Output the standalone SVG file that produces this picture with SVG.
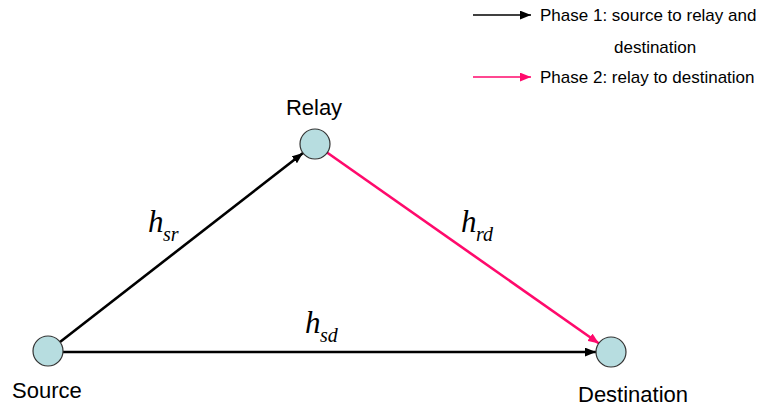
<svg xmlns="http://www.w3.org/2000/svg" width="766" height="407" viewBox="0 0 766 407">
<style>
  .lbl { font-family: "Liberation Sans", Arial, sans-serif; fill: #000; }
  .node { fill: #B7DDE0; stroke: #333; stroke-width: 1.2; }
  .blk { stroke: #000; stroke-width: 2.6; fill: none; }
  .pnk { stroke: #FF0A6C; stroke-width: 2.6; fill: none; }
  .h { font-family: "Liberation Serif", "Times New Roman", serif; font-style: italic; fill: #000; }
</style>
<defs>
  <marker id="ab" viewBox="0 0 10 8" refX="10" refY="4" markerWidth="11" markerHeight="9" markerUnits="userSpaceOnUse" orient="auto">
    <path d="M0,0 L10,4 L0,8 Z" fill="#000"/>
  </marker>
  <marker id="ap" viewBox="0 0 10 8" refX="10" refY="4" markerWidth="11" markerHeight="9" markerUnits="userSpaceOnUse" orient="auto">
    <path d="M0,0 L10,4 L0,8 Z" fill="#FF0A6C"/>
  </marker>
</defs>
<g id="legend">
  <line x1="473" y1="15" x2="531" y2="15" stroke="#000" stroke-width="1.5" marker-end="url(#ab)"/>
  <text class="lbl" x="540" y="21" font-size="17">Phase 1: source to relay and</text>
  <text class="lbl" x="614" y="53" font-size="17">destination</text>
  <line x1="473" y1="77" x2="531" y2="77" stroke="#FF0A6C" stroke-width="1.5" marker-end="url(#ap)"/>
  <text class="lbl" x="540" y="83" font-size="17">Phase 2: relay to destination</text>
</g>
<g id="connectors">
  <line class="blk" x1="60" y1="342" x2="303" y2="153" marker-end="url(#ab)"/>
  <line class="blk" x1="63" y1="352" x2="596" y2="352" marker-end="url(#ab)"/>
  <line class="pnk" x1="327" y1="152.5" x2="599" y2="343.5" marker-end="url(#ap)"/>
  <text class="h" x="148" y="232" font-size="31">h</text>
  <text class="h" x="163" y="241" font-size="20">sr</text>
  <text class="h" x="461" y="232" font-size="31">h</text>
  <text class="h" x="476" y="241" font-size="20">rd</text>
  <text class="h" x="305" y="333" font-size="31">h</text>
  <text class="h" x="320" y="342" font-size="20">sd</text>
</g>
<g id="relay">
  <circle class="node" cx="315" cy="144" r="15"/>
  <text class="lbl" x="314" y="115" font-size="22" text-anchor="middle">Relay</text>
</g>
<g id="source">
  <circle class="node" cx="48" cy="351" r="15"/>
  <text class="lbl" x="12" y="398" font-size="22">Source</text>
</g>
<g id="destination">
  <circle class="node" cx="611" cy="352" r="15"/>
  <text class="lbl" x="578" y="402" font-size="22">Destination</text>
</g>
</svg>
